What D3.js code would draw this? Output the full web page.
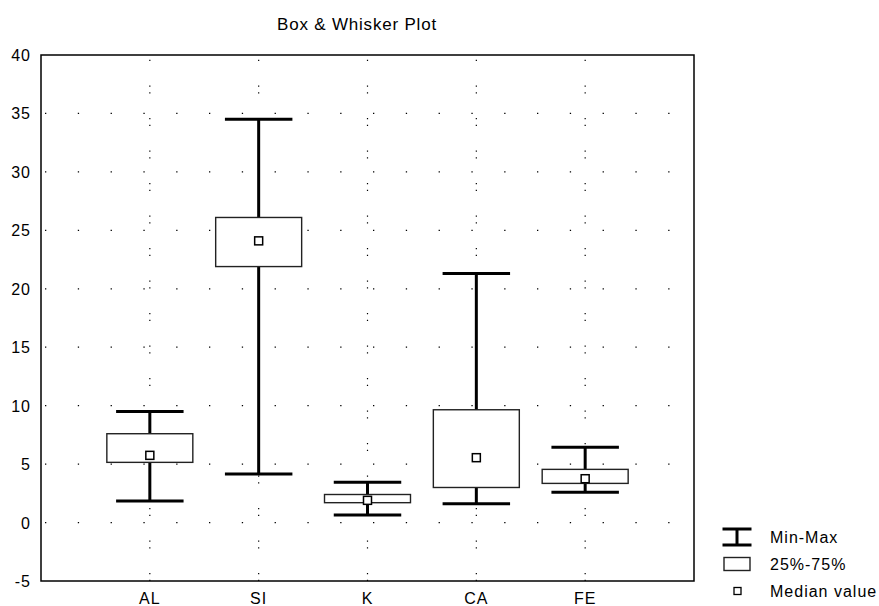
<!DOCTYPE html>
<html>
<head>
<meta charset="utf-8">
<script src="https://cdn.jsdelivr.net/npm/d3@7"></script>
<style>
  body { margin: 0; background: #fff; }
  text { font-family: "Liberation Sans", Arial, sans-serif; fill: #000; }
</style>
</head>
<body>
<script>
var categories = ["AL", "SI", "K", "CA", "FE"];
var mins    = [1.85, 4.15, 0.65, 1.6, 2.6];
var q25     = [5.15, 21.9, 1.7, 3.0, 3.35];
var medians = [5.75, 24.1, 1.9, 5.55, 3.75];
var q75     = [7.6, 26.1, 2.4, 9.65, 4.55];
var maxs    = [9.5, 34.5, 3.45, 21.3, 6.45];
var yTicks  = [-5, 0, 5, 10, 15, 20, 25, 30, 35, 40];
var legendLabels = ["Min-Max", "25%-75%", "Median value"];

var W = 879, H = 606;
// plot frame (note: "top" is taken by window.top)
var pLeft = 41, pRight = 694, pTop = 55, pBottom = 581;

var svg = d3.select("body").append("svg")
  .attr("width", W).attr("height", H);

var x = d3.scalePoint().domain(categories).range([pLeft, pRight]).padding(1);
var y = d3.scaleLinear().domain([-5, 40]).range([pBottom, pTop]);
var step = x.step();

// dotted grid
svg.append("g").selectAll("line")
  .data(yTicks.filter(function (d) { return d > -5 && d < 40; }))
  .enter().append("line")
  .attr("x1", pLeft).attr("x2", pRight)
  .attr("y1", function (d) { return y(d); })
  .attr("y2", function (d) { return y(d); })
  .attr("stroke", "#000").attr("stroke-width", 1.2)
  .attr("stroke-dasharray", "1.3,31.5")
  .attr("stroke-dashoffset", -4);

svg.append("g").selectAll("line")
  .data(categories)
  .enter().append("line")
  .attr("x1", function (d) { return x(d); })
  .attr("x2", function (d) { return x(d); })
  .attr("y1", pBottom).attr("y2", pTop)
  .attr("stroke", "#000").attr("stroke-width", 1.2)
  .attr("stroke-dasharray", "1.3,5.4,1.3,24.5");

// frame
svg.append("rect")
  .attr("x", pLeft).attr("y", pTop)
  .attr("width", pRight - pLeft).attr("height", pBottom - pTop)
  .attr("fill", "none").attr("stroke", "#000").attr("stroke-width", 1.5);

// boxes
var capW = step * 0.62, boxW = step * 0.79, med = 8;
var g = svg.append("g").selectAll("g")
  .data(categories).enter().append("g");

g.append("line")
  .attr("x1", function (d) { return x(d); })
  .attr("x2", function (d) { return x(d); })
  .attr("y1", function (d, i) { return y(mins[i]); })
  .attr("y2", function (d, i) { return y(maxs[i]); })
  .attr("stroke", "#000").attr("stroke-width", 3);

[mins, maxs].forEach(function (arr) {
  g.append("line")
    .attr("x1", function (d) { return x(d) - capW / 2; })
    .attr("x2", function (d) { return x(d) + capW / 2; })
    .attr("y1", function (d, i) { return y(arr[i]); })
    .attr("y2", function (d, i) { return y(arr[i]); })
    .attr("stroke", "#000").attr("stroke-width", 3);
});

g.append("rect")
  .attr("x", function (d) { return x(d) - boxW / 2; })
  .attr("y", function (d, i) { return y(q75[i]); })
  .attr("width", boxW)
  .attr("height", function (d, i) { return y(q25[i]) - y(q75[i]); })
  .attr("fill", "#fff").attr("stroke", "#222").attr("stroke-width", 1.4);

g.append("rect")
  .attr("x", function (d) { return x(d) - med / 2; })
  .attr("y", function (d, i) { return y(medians[i]) - med / 2; })
  .attr("width", med).attr("height", med)
  .attr("fill", "#fff").attr("stroke", "#000").attr("stroke-width", 1.5);

// axis labels
svg.append("g").selectAll("text")
  .data(yTicks).enter().append("text")
  .attr("x", 31).attr("y", function (d) { return y(d) + 6; })
  .attr("text-anchor", "end")
  .style("font-size", "16px").style("letter-spacing", "1px")
  .text(function (d) { return d; });

svg.append("g").selectAll("text")
  .data(categories).enter().append("text")
  .attr("x", function (d) { return x(d); }).attr("y", 604)
  .attr("text-anchor", "middle")
  .style("font-size", "16px").style("letter-spacing", "1px")
  .text(function (d) { return d; });

svg.append("text")
  .attr("x", 357).attr("y", 30)
  .attr("text-anchor", "middle")
  .style("font-size", "17px").style("letter-spacing", "0.8px")
  .text("Box & Whisker Plot");

// legend
var lx = 737, ly = [537, 564, 591];
var lg = svg.append("g");
lg.append("line").attr("x1", lx).attr("x2", lx).attr("y1", ly[0] - 8).attr("y2", ly[0] + 8)
  .attr("stroke", "#000").attr("stroke-width", 3);
lg.append("line").attr("x1", lx - 14.5).attr("x2", lx + 14.5).attr("y1", ly[0] - 8).attr("y2", ly[0] - 8)
  .attr("stroke", "#000").attr("stroke-width", 3);
lg.append("line").attr("x1", lx - 14.5).attr("x2", lx + 14.5).attr("y1", ly[0] + 8).attr("y2", ly[0] + 8)
  .attr("stroke", "#000").attr("stroke-width", 3);
lg.append("rect").attr("x", lx - 13).attr("y", ly[1] - 6.5).attr("width", 26).attr("height", 13)
  .attr("fill", "#fff").attr("stroke", "#222").attr("stroke-width", 1.4);
lg.append("rect").attr("x", lx - 3).attr("y", ly[2] - 3.5).attr("width", 7).attr("height", 7)
  .attr("fill", "#fff").attr("stroke", "#000").attr("stroke-width", 1.3);
lg.selectAll("text").data(legendLabels).enter().append("text")
  .attr("x", 770).attr("y", function (d, i) { return ly[i] + 6; })
  .style("font-size", "16px").style("letter-spacing", "1px")
  .text(function (d) { return d; });
</script>
</body>
</html>
